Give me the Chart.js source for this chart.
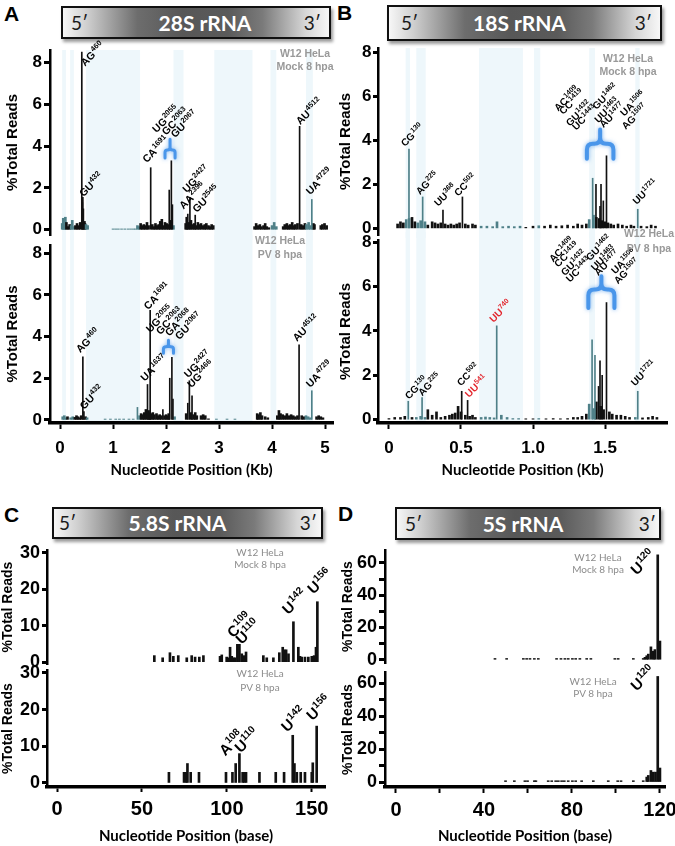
<!DOCTYPE html>
<html>
<head>
<meta charset="utf-8">
<title>rRNA read distribution</title>
<script src="https://cdn.jsdelivr.net/npm/chart.js"></script>
<style>
  body { margin: 0; background: #fff; }
  #page { position: relative; width: 675px; height: 846px; overflow: hidden; }
  #page canvas { position: absolute; }
  .letter { position: absolute; font: bold 21px 'Liberation Sans', Arial, sans-serif; color: #000; }
  .rna { position: absolute; box-sizing: border-box; border: 2px solid #111;
         box-shadow: 2px 3px 3px rgba(0,0,0,0.4);
         background: linear-gradient(to right, #f7f7f7 0%, #cfcfcf 9%, #6d6d6d 28%, #575757 45%, #5a5a5a 62%, #7a7a7a 75%, #d6d6d6 91%, #f7f7f7 100%);
         font-family: Lato, sans-serif; }
  .rna .end { position: absolute; top: 50%; transform: translateY(-52%); font-size: 19px; color: #1a1a1a; }
  .rna .l { left: 8px; }
  .rna .r { right: 8px; }
  .rna .name { position: absolute; top: 50%; transform: translate(-50%, -52%); color: #fff; font-weight: bold; font-size: 21px; white-space: nowrap; }
  .cond { position: absolute; z-index: 5; text-align: center; white-space: nowrap; transform: translateX(-50%); }
  .big { color: #999; font: bold 10.5px/13px 'Liberation Sans', Arial, sans-serif; }
  .small { color: #8c8c8c; font: 10px/12px Lato, sans-serif; }
</style>
</head>
<body>
<div id="page">
  <div class="letter" style="left:4px;top:2px">A</div>
  <div class="letter" style="left:337px;top:1px">B</div>
  <div class="letter" style="left:4px;top:503px">C</div>
  <div class="letter" style="left:338px;top:502px">D</div>

  <div class="rna" style="left:61px;top:6px;width:270px;height:33px">
    <span class="end l">5′</span><span class="name" style="left:calc(50% + 9px)">28S rRNA</span><span class="end r">3′</span>
  </div>
  <div class="rna" style="left:387px;top:5px;width:275px;height:36px">
    <span class="end l" style="left:12px">5′</span><span class="name" style="left:calc(50% - 5px)">18S rRNA</span><span class="end r">3′</span>
  </div>
  <div class="rna" style="left:52px;top:507px;width:271px;height:32px">
    <span class="end l" style="left:5px">5′</span><span class="name" style="left:calc(50% - 10px)">5.8S rRNA</span><span class="end r" style="right:4px">3′</span>
  </div>
  <div class="rna" style="left:395px;top:507px;width:266px;height:33px">
    <span class="end l">5′</span><span class="name" style="left:calc(50% - 5px)">5S rRNA</span><span class="end r" style="right:3px">3′</span>
  </div>

  <div class="cond big" style="left:305px;top:47px">W12 HeLa<br>Mock 8 hpa</div>
  <div class="cond big" style="left:280px;top:233px;line-height:14px">W12 HeLa<br>PV 8 hpa</div>
  <div class="cond big" style="left:628px;top:52px">W12 HeLa<br>Mock 8 hpa</div>
  <div class="cond big" style="left:649px;top:226px;line-height:15px">W12 HeLa<br>PV 8 hpa</div>
  <div class="cond small" style="left:260px;top:546px">W12 HeLa<br>Mock 8 hpa</div>
  <div class="cond small" style="left:260px;top:666px;line-height:14px">W12 HeLa<br>PV 8 hpa</div>
  <div class="cond small" style="left:598px;top:551px">W12 HeLa<br>Mock 8 hpa</div>
  <div class="cond small" style="left:593px;top:675px">W12 HeLa<br>PV 8 hpa</div>
</div>

<script>
// ---------- 28S rRNA (A), position in kb, value in % total reads ----------
const bands28S = [[0.04,0.11],[0.19,0.26],[0.49,1.51],[2.14,2.33],[2.91,3.63],[3.97,4.08],[4.64,4.77]];
const xTicks28S = [0,1,2,3,4,5];
const xLabels28S = ['0','1','2','3','4','5'];

const peaks28SMock = [[0.41,8.5],[0.42,1.3],[0.43,1.55],[0.44,1.0],[1.71,2.97],[2.06,1.9],[2.1,3.3],[2.12,1.2],
  [2.41,0.75],[2.45,1.55],[2.55,0.7],[4.52,4.95],[4.75,1.45]];
const floor28SMock = [[0.04,0.3],[0.06,0.55],[0.08,0.2],[0.1,0.6],[0.12,0.35],[0.15,0.15],[0.18,0.25],[0.21,0.2],
  [0.23,0.45],[0.26,0.15],[0.29,0.2],[0.32,0.3],[0.35,0.2],[0.38,0.35],[0.46,0.4],[0.47,0.3],[0.49,0.25],[0.52,0.2],
  [1.0,0.04],[1.05,0.04],[1.1,0.04],[1.16,0.04],[1.22,0.04],[1.28,0.04],[1.33,0.04],[1.38,0.04],[1.42,0.04],
  [1.46,0.2],[1.49,0.15],[1.52,0.3],[1.55,0.2],[1.58,0.25],[1.61,0.2],[1.64,0.35],[1.67,0.2],[1.74,0.25],[1.77,0.15],
  [1.8,0.3],[1.83,0.2],[1.86,0.25],[1.89,0.4],[1.92,0.5],[1.95,0.2],[1.98,0.35],[2.01,0.3],[2.04,0.25],[2.08,0.45],[2.14,0.2],
  [2.37,0.3],[2.39,0.6],[2.43,0.35],[2.47,0.45],[2.5,0.25],[2.53,0.3],[2.57,0.2],[2.6,0.35],[2.63,0.25],[2.66,0.3],
  [2.7,0.2],[2.73,0.25],[2.76,0.3],[2.8,0.2],[2.83,0.15],[2.86,0.25],[2.89,0.2],
  [3.67,0.15],[3.7,0.3],[3.73,0.2],[3.77,0.25],[3.8,0.15],[3.84,0.2],[3.87,0.3],[3.9,0.15],[3.94,0.1],[4.0,0.2],
  [4.04,0.35],[4.08,0.15],[4.21,0.15],[4.24,0.25],[4.28,0.3],[4.31,0.2],[4.34,0.25],[4.38,0.35],[4.41,0.2],[4.44,0.25],
  [4.48,0.3],[4.55,0.25],[4.58,0.2],[4.62,0.3],[4.65,0.25],[4.69,0.35],[4.72,0.2],[4.78,0.3],[4.8,0.25],
  [4.92,0.2],[4.95,0.25],[4.99,0.3],[5.03,0.2]];
const tags28SMock = [['AG','460',0.47,7.8],['GU','432',0.44,1.55],['CA','1691',1.635,3.18],['UG','2055',1.82,4.62],
  ['GC','2063',2.0,4.5],['GU','2067',2.17,4.38],['UG','2427',2.39,1.75],['AA','2396',2.33,0.96],['GU','2545',2.58,0.8],
  ['AU','4512',4.53,5.0],['UA','4729',4.72,1.65]];
const brace28SMock = [1.98, 2.17, 4.33, 3.82, 3.43];

const peaks28SPV = [[0.43,3.03],[0.45,0.4],[1.46,0.6],[1.65,1.7],[1.7,5.26],[1.94,0.5],[2.07,2.0],[2.11,3.0],[2.13,1.0],
  [2.41,0.8],[2.44,1.88],[2.49,1.16],[4.51,3.6],[4.75,1.4]];
const floor28SPV = [[0.05,0.15],[0.08,0.2],[0.11,0.1],[0.14,0.15],[0.2,0.1],[0.24,0.15],[0.28,0.12],[0.31,0.2],
  [0.34,0.15],[0.37,0.1],[0.4,0.2],[0.48,0.15],[0.51,0.1],[0.85,0.04],[0.95,0.04],[1.05,0.04],[1.12,0.04],[1.2,0.04],
  [1.3,0.04],[1.38,0.04],[1.5,0.2],[1.53,0.3],[1.56,0.25],[1.59,0.35],[1.62,0.5],[1.67,0.45],[1.68,0.35],[1.72,0.3],
  [1.75,0.35],[1.78,0.25],[1.82,0.3],[1.85,0.2],[1.88,0.25],[1.91,0.2],[1.97,0.2],[2.0,0.25],[2.03,0.2],[2.05,0.3],
  [2.16,0.15],[2.38,0.3],[2.47,0.35],[2.52,0.25],[2.55,0.35],[2.58,0.2],[2.66,0.2],[2.7,0.25],[2.74,0.2],[2.8,0.05],
  [2.95,0.04],[3.15,0.04],[3.3,0.04],[3.72,0.3],[3.74,0.25],[3.78,0.35],[3.81,0.2],[3.87,0.15],[3.92,0.1],[4.1,0.2],
  [4.13,0.45],[4.16,0.3],[4.2,0.25],[4.24,0.2],[4.28,0.3],[4.32,0.2],[4.36,0.25],[4.4,0.2],[4.44,0.15],[4.48,0.2],
  [4.56,0.2],[4.6,0.15],[4.64,0.2],[4.68,0.15],[4.72,0.1],[4.84,0.15],[4.88,0.2],[4.92,0.15],[4.96,0.1]];
const tags28SPV = [['AG','460',0.38,3.2],['GU','432',0.45,0.48],['UA','1637',1.6,1.83],['CA','1691',1.66,5.27],
  ['UG','2055',1.7,4.17],['GC','2063',1.89,4.07],['GA','2068',2.06,3.99],['GU','2067',2.25,3.83],
  ['UG','2427',2.42,2.0],['UG','2466',2.48,1.52],['AU','4512',4.47,3.74],['UA','4729',4.72,1.53]];
const brace28SPV = [1.95, 2.14, 3.83, 3.51, 3.2];

// ---------- 18S rRNA (B), position in kb ----------
const bands18S = [[0.116,0.146],[0.19,0.255],[0.625,0.93],[1.007,1.05],[1.39,1.43],[1.71,1.74]];
const xTicks18S = [0,0.5,1,1.5];
const xLabels18S = ['0','0.5','1.0','1.5'];
const yTicksKb = [0,2,4,6,8];

const peaks18SMock = [[0.139,3.6],[0.234,1.43],[0.375,0.83],[0.51,1.43],[1.414,2.28],[1.437,2.0],[1.465,1.0],
  [1.472,2.0],[1.488,1.25],[1.51,3.3],[1.727,0.87]];
const floor18SMock = [[0.06,0.2],[0.08,0.3],[0.1,0.25],[0.12,0.4],[0.14,0.45],[0.16,0.5],[0.18,0.3],[0.2,0.25],
  [0.22,0.35],[0.25,0.3],[0.27,0.15],[0.3,0.3],[0.32,0.25],[0.34,0.2],[0.36,0.25],[0.39,0.2],[0.41,0.15],[0.43,0.2],
  [0.45,0.15],[0.47,0.2],[0.49,0.25],[0.53,0.2],[0.55,0.15],[0.58,0.2],[0.6,0.15],[0.64,0.1],[0.68,0.1],[0.72,0.08],
  [0.75,0.3],[0.79,0.08],[0.83,0.1],[0.87,0.08],[0.91,0.1],[0.95,0.05],[1.0,0.1],[1.04,0.12],[1.08,0.1],[1.12,0.15],
  [1.16,0.1],[1.2,0.12],[1.24,0.15],[1.28,0.1],[1.31,0.2],[1.34,0.15],[1.37,0.2],[1.39,0.4],[1.42,0.6],[1.44,0.5],
  [1.46,0.45],[1.48,0.35],[1.5,0.3],[1.52,0.25],[1.54,0.2],[1.56,0.15],[1.59,0.2],[1.62,0.15],[1.65,0.1],[1.68,0.15],
  [1.7,0.1],[1.75,0.1],[1.79,0.08],[1.82,0.15],[1.85,0.1]];
const tags18SMock = [['CG','130',0.111,3.7],['AG','225',0.215,1.51],['UU','368',0.342,0.98],['CC','502',0.481,1.44],
  ['AC','1409',1.176,5.3],['CC','1419',1.21,5.15],['GU','1432',1.257,4.62],['UC','1443',1.3,4.44],
  ['GU','1462',1.44,5.38],['UU','1463',1.454,4.77],['AU','1477',1.49,4.55],['UA','1506',1.634,5.07],
  ['AG','1507',1.644,4.47],['UU','1721',1.72,1.06]];
const brace18SMock = [1.374, 1.558, 4.5, 3.85, 3.17];

const peaks18SPV = [[0.134,0.83],[0.23,1.0],[0.505,1.28],[0.546,0.87],[0.748,4.23],[1.41,3.6],[1.43,2.9],
  [1.455,1.5],[1.465,2.65],[1.48,2.0],[1.51,5.28],[1.727,1.28]];
const floor18SPV = [[0.0,0.05],[0.04,0.1],[0.08,0.1],[0.11,0.15],[0.16,0.1],[0.19,0.1],[0.22,0.15],[0.25,0.1],
  [0.27,0.45],[0.3,0.2],[0.33,0.35],[0.36,0.1],[0.39,0.15],[0.42,0.2],[0.44,0.25],[0.46,0.3],[0.48,0.6],[0.5,0.35],
  [0.53,0.2],[0.56,0.15],[0.58,0.2],[0.6,0.1],[0.64,0.1],[0.67,0.12],[0.7,0.1],[0.73,0.08],[0.78,0.2],[0.82,0.1],
  [0.86,0.05],[0.9,0.05],[0.95,0.04],[1.0,0.04],[1.04,0.05],[1.09,0.04],[1.14,0.05],[1.19,0.04],[1.24,0.05],
  [1.28,0.1],[1.31,0.1],[1.34,0.15],[1.37,0.25],[1.39,0.7],[1.42,0.5],[1.44,0.8],[1.47,0.6],[1.49,0.45],[1.53,0.35],
  [1.55,0.25],[1.58,0.2],[1.61,0.2],[1.64,0.15],[1.67,0.1],[1.71,0.1],[1.76,0.08],[1.8,0.1],[1.83,0.15],[1.86,0.1]];
const tags18SPV = [['CG','130',0.139,0.9],['AG','225',0.231,1.05],['CC','502',0.5,1.5],['UU','541',0.556,0.98],
  ['UU','740',0.725,4.36],['AC','1409',1.14,7.07],['CC','1419',1.176,6.85],['GU','1432',1.222,6.47],
  ['UC','1443',1.257,6.17],['GU','1462',1.396,7.14],['UU','1463',1.43,6.69],['AU','1477',1.453,6.47],
  ['UA','1506',1.57,6.54],['AG','1507',1.59,6.09],['UU','1721',1.708,1.5]];
const brace18SPV = [1.384, 1.565, 6.47, 5.87, 5.04];
const pvOnlySites = ['541','740'];

// ---------- 5.8S rRNA (C), position in bases ----------
const xTicks58S = [0,50,100,150];
const xLabels58S = ['0','50','100','150'];
const yTicks58S = [0,10,20,30];
const bars58SMock = [[57.3,1.8],[62.2,1.2],[66.5,2.6],[68.5,1.6],[71.4,1.8],[76.4,1.2],[79.3,1.8],[81.3,1.4],
  [83.8,1.4],[86.2,1.8],[96,1.6],[97,2.0],[99.9,1.4],[100.9,1.2],[101.9,4.1],[102.9,1.6],[103.8,1.2],[104.8,1.2],
  [106.2,4.9],[107.4,4.9],[108.8,2.3],[110.2,1.8],[111.3,2.8],[121.5,1.8],[123.5,1.2],[127.4,1.2],[130.9,2.6],
  [132.9,4.1],[133.7,3.4],[134.9,3.4],[136.3,2.3],[139.2,11.1],[142.1,4.1],[143.1,1.6],[144.1,1.4],[146,1.4],
  [148,1.4],[150,1.6],[151.4,1.8],[152.5,4.1],[153.3,16.6]];
const bars58SPV = [[65.9,2.9],[74.8,2.9],[76,2.9],[76.8,5.3],[78.7,2.9],[83.6,2.9],[99.5,2.9],[103.3,2.9],
  [105.2,5.3],[107.4,8.0],[109.3,2.9],[110.3,2.9],[111.3,2.9],[119.2,2.9],[128.8,2.9],[133.7,2.9],[138.8,13.0],
  [139.8,5.3],[141.2,2.9],[143.5,2.9],[146,2.9],[150,2.9],[150.6,5.5],[152.9,15.5]];
const tags58SMock = [['C','109',103.8,6.5],['U','110',108.8,4.7],['U','142',136.2,12.9],['U','156',151,18.5]];
const tags58SPV = [['A','108',99,7.2],['U','110',108.2,8.0],['U','142',135.6,13.7],['U','156',150.4,16.8]];

// ---------- 5S rRNA (D), position in bases ----------
const xTicks5S = [0,20,40,60,80,100,120];
const xLabels5S = ['0','','40','','80','','120'];
const yTicks5S = [0,10,20,30,40,50,60];
const yLabels5S = ['0','','20','','40','','60'];
const bars5SMock = [[45,0.8],[50.3,0.8],[57.9,0.8],[59.4,0.8],[60.9,0.8],[62.9,0.8],[64.7,0.8],[73,0.8],[75,0.8],
  [76.8,0.8],[78.3,0.8],[80.2,0.8],[81.7,0.8],[83.6,0.8],[86.7,0.8],[88.6,0.8],[99.5,0.8],[101,0.8],[107.9,0.8],
  [112.4,0.8],[113.2,1.5],[114,2.5],[114.7,3.5],[115.9,8],[117,5.3],[117.7,6.3],[119,65],[120,11.6]];
const bars5SPV = [[49.8,0.8],[53.8,0.8],[58.6,0.8],[59.8,0.8],[62.9,0.8],[63.6,0.8],[69.2,0.8],[70.8,0.8],[72.6,0.8],
  [73.8,0.8],[75.3,0.8],[76.5,0.8],[78.3,0.8],[80.2,0.8],[81.7,0.8],[84.4,0.8],[89.7,0.8],[96.5,0.8],[100.8,0.8],
  [102.3,0.8],[107.9,0.8],[112.4,0.8],[114,3],[114.7,4],[115.9,7],[117,6],[118,6],[119,64],[120,8.5]];
const tags5SMock = [['U','120',109.4,52]];
const tags5SPV = [['U','120',109.4,54.7]];

// ---------- drawing ----------
const page = document.getElementById('page');
const ARIAL = "'Liberation Sans', Arial, sans-serif";

function inBand(bands, v) {
  return !!bands && bands.some(([s, e]) => v >= s && v <= e);
}

// site label on a 45 degree slope, position number as superscript
function drawTag(ctx, px, py, main, sup, f, color) {
  ctx.save();
  ctx.translate(px, py);
  ctx.rotate(-Math.PI / 4);
  ctx.fillStyle = color;
  ctx.textAlign = 'left';
  ctx.textBaseline = 'alphabetic';
  ctx.font = `bold ${f[0]}px ${ARIAL}`;
  ctx.fillText(main, 0, 0);
  const w = ctx.measureText(main).width;
  ctx.font = `bold ${f[1]}px ${ARIAL}`;
  ctx.fillText(sup, w + 0.5, -f[0] * 0.42);
  ctx.restore();
}

function drawBrace(ctx, x, y, b, lw, rad) {
  const x1 = x.getPixelForValue(b[0]), x2 = x.getPixelForValue(b[1]);
  const cx = (x1 + x2) / 2;
  const yt = y.getPixelForValue(b[2]), ym = y.getPixelForValue(b[3]), yb = y.getPixelForValue(b[4]);
  const r = Math.min(rad, (x2 - x1) / 4, (yb - ym) * 0.8);
  ctx.save();
  ctx.strokeStyle = '#4a96ea';
  ctx.lineWidth = lw;
  ctx.lineCap = 'round';
  ctx.lineJoin = 'round';
  ctx.shadowColor = 'rgba(74,150,234,0.7)';
  ctx.shadowBlur = 4;
  ctx.beginPath();
  ctx.moveTo(x1, yb);
  ctx.lineTo(x1, ym + r);
  ctx.quadraticCurveTo(x1, ym, x1 + r, ym);
  ctx.lineTo(cx - r, ym);
  ctx.quadraticCurveTo(cx, ym, cx, ym - r);
  ctx.lineTo(cx, yt);
  ctx.moveTo(x2, yb);
  ctx.lineTo(x2, ym + r);
  ctx.quadraticCurveTo(x2, ym, x2 - r, ym);
  ctx.lineTo(cx + r, ym);
  ctx.quadraticCurveTo(cx, ym, cx, ym - r);
  ctx.stroke();
  ctx.restore();
}

function decor(o) {
  return {
    id: 'decor',
    beforeDraw(chart) {
      if (!o.bands) return;
      const { ctx, chartArea: a } = chart;
      const x = chart.scales.x;
      const top = o.xTitle ? 0 : a.top;
      const bottom = o.xTitle ? a.bottom : chart.height;
      ctx.save();
      ctx.fillStyle = '#eef7fb';
      o.bands.forEach(([s, e]) => {
        const p0 = x.getPixelForValue(s), p1 = x.getPixelForValue(e);
        ctx.fillRect(p0, top, p1 - p0, bottom - top);
      });
      ctx.restore();
    },
    afterDraw(chart) {
      const { ctx } = chart;
      const { x, y } = chart.scales;
      if (o.brace) drawBrace(ctx, x, y, o.brace, o.braceWidth, o.braceRadius);
      (o.tags || []).forEach(([main, sup, vx, vy]) => {
        const color = (o.redSites || []).includes(sup) ? '#e3262d' : '#000';
        drawTag(ctx, x.getPixelForValue(vx), y.getPixelForValue(vy), main, sup, o.tagFont, color);
      });
    }
  };
}

function barSet(points, thickness, bands) {
  return {
    data: points.slice().sort((a, b) => a[0] - b[0]).map(([x, y]) => ({ x, y })),
    barThickness: thickness,
    borderWidth: 0,
    grouped: false,
    backgroundColor: c => (c.raw && inBand(bands, c.raw.x)) ? '#4f8088' : '#111'
  };
}

function stemPlot(o) {
  const [L, T, W, H] = o.box;
  const [pl, pt, pr, pb] = o.plot;
  const canvas = document.createElement('canvas');
  canvas.width = W;
  canvas.height = H;
  canvas.style.left = L + 'px';
  canvas.style.top = T + 'px';
  page.appendChild(canvas);

  const showX = !!o.xTitle;
  const under = T + H - pb;
  const datasets = [barSet(o.bars, o.barW, o.bands)];
  if (o.floor) datasets.push(barSet(o.floor, 2, o.bands));

  return new Chart(canvas, {
    type: 'bar',
    data: { datasets },
    options: {
      responsive: false,
      animation: false,
      events: [],
      layout: { padding: { left: 0, top: pt - T, right: L + W - pr, bottom: showX ? 0 : under } },
      plugins: { legend: { display: false }, tooltip: { enabled: false } },
      scales: {
        x: {
          type: 'linear',
          display: showX,
          min: o.xRange[0],
          max: o.xRange[1],
          offset: false,
          bounds: 'data',
          afterBuildTicks: s => { s.ticks = o.xTicks.map(v => ({ value: v })); },
          afterFit: s => { if (showX) s.height = under; s.paddingLeft = 0; s.paddingRight = 0; },
          ticks: {
            autoSkip: false, maxRotation: 0, padding: o.xTick[2], color: '#000',
            font: { family: ARIAL, weight: 'bold', size: o.xTick[0] },
            callback: (v, i) => o.xLabels[i]
          },
          grid: { drawOnChartArea: false, offset: false, tickLength: o.xTick[1], tickWidth: 2, tickColor: '#000' },
          border: { display: true, width: 3.5, color: '#000' },
          title: {
            display: showX, text: o.xTitle || '', color: '#000',
            font: { family: 'Lato', weight: 'bold', size: 15 },
            padding: { top: 0, bottom: o.xTitlePad || 0 }
          }
        },
        y: {
          min: o.yRange[0],
          max: o.yRange[1],
          bounds: 'data',
          afterBuildTicks: s => { s.ticks = o.yTicks.map(v => ({ value: v })); },
          afterFit: s => { s.width = pl - L; s.paddingTop = 0; s.paddingBottom = 0; },
          ticks: {
            autoSkip: false, padding: o.yTick[2], color: '#000',
            font: { family: ARIAL, weight: 'bold', size: o.yTick[0] },
            callback: (v, i) => (o.yLabels ? o.yLabels[i] : String(v))
          },
          grid: { drawOnChartArea: false, tickLength: o.yTick[1], tickWidth: 3, tickColor: '#000' },
          border: { display: true, width: 2.5, color: '#000' },
          title: {
            display: true, text: '%Total Reads', color: '#000',
            font: { family: ARIAL, weight: 'bold', size: o.yTitleSize },
            padding: { top: o.yTitlePad, bottom: 0 }
          }
        }
      }
    },
    plugins: [decor(o)]
  });
}

// A: 28S
stemPlot({ box: [0, 40, 340, 200], plot: [50, 50, 333, 235], bars: peaks28SMock, floor: floor28SMock, barW: 1,
  bands: bands28S, xRange: [-0.19, 5.15], xTicks: xTicks28S, xLabels: xLabels28S, xTick: [17, 6, 9],
  yRange: [-0.25, 8.6], yTicks: yTicksKb, yTick: [17, 6, 2], yTitleSize: 15, yTitlePad: 4,
  tags: tags28SMock, tagFont: [10.5, 7.5], brace: brace28SMock, braceWidth: 3, braceRadius: 3 });
stemPlot({ box: [0, 235, 340, 250], plot: [50, 245, 333, 423], bars: peaks28SPV, floor: floor28SPV, barW: 1,
  bands: bands28S, xRange: [-0.19, 5.15], xTicks: xTicks28S, xLabels: xLabels28S, xTick: [17, 6, 9],
  xTitle: 'Nucleotide Position (Kb)', xTitlePad: 6,
  yRange: [-0.15, 8.4], yTicks: yTicksKb, yTick: [17, 6, 2], yTitleSize: 15, yTitlePad: 4,
  tags: tags28SPV, tagFont: [10.5, 7.5], brace: brace28SPV, braceWidth: 3, braceRadius: 3 });

// B: 18S
stemPlot({ box: [335, 38, 340, 200], plot: [378, 48, 667, 235], bars: peaks18SMock, floor: floor18SMock, barW: 1,
  bands: bands18S, xRange: [-0.076, 1.93], xTicks: xTicks18S, xLabels: xLabels18S, xTick: [17, 6, 9],
  yRange: [-0.3, 8.2], yTicks: yTicksKb, yTick: [17, 5, 1.5], yTitleSize: 15, yTitlePad: 2,
  tags: tags18SMock, tagFont: [10, 7], brace: brace18SMock, braceWidth: 4, braceRadius: 6 });
stemPlot({ box: [335, 232, 340, 253], plot: [378, 240, 667, 423], bars: peaks18SPV, floor: floor18SPV, barW: 1,
  bands: bands18S, xRange: [-0.076, 1.93], xTicks: xTicks18S, xLabels: xLabels18S, xTick: [17, 6, 9],
  xTitle: 'Nucleotide Position (Kb)', xTitlePad: 6,
  yRange: [-0.15, 8.1], yTicks: yTicksKb, yTick: [17, 5, 1.5], yTitleSize: 15, yTitlePad: 2,
  tags: tags18SPV, tagFont: [10, 7], redSites: pvOnlySites, brace: brace18SPV, braceWidth: 4, braceRadius: 6 });

// C: 5.8S
stemPlot({ box: [0, 540, 335, 130], plot: [47, 550, 325, 664], bars: bars58SMock, barW: 2,
  xRange: [-5.9, 157.8], xTicks: xTicks58S, xLabels: xLabels58S, xTick: [20, 5, 5],
  yRange: [-0.5, 30.8], yTicks: yTicks58S, yTick: [18, 5, 2], yTitleSize: 14, yTitlePad: 0,
  tags: tags58SMock, tagFont: [15, 10] });
stemPlot({ box: [0, 662, 335, 184], plot: [47, 670, 325, 787], bars: bars58SPV, barW: 2,
  xRange: [-5.9, 157.8], xTicks: xTicks58S, xLabels: xLabels58S, xTick: [20, 5, 5],
  xTitle: 'Nucleotide Position (base)', xTitlePad: 1,
  yRange: [-1.1, 30.8], yTicks: yTicks58S, yTick: [18, 5, 2], yTitleSize: 14, yTitlePad: 0,
  tags: tags58SPV, tagFont: [15, 10] });

// D: 5S
stemPlot({ box: [335, 540, 340, 128], plot: [385, 550, 665, 663], bars: bars5SMock, barW: 2,
  xRange: [-5, 122.3], xTicks: xTicks5S, xLabels: xLabels5S, xTick: [20, 6, 5],
  yRange: [-2, 68], yTicks: yTicks5S, yLabels: yLabels5S, yTick: [18, 6, 2], yTitleSize: 14, yTitlePad: 5,
  tags: tags5SMock, tagFont: [15, 10] });
stemPlot({ box: [335, 662, 340, 184], plot: [385, 672, 665, 787], bars: bars5SPV, barW: 2,
  xRange: [-5, 122.3], xTicks: xTicks5S, xLabels: xLabels5S, xTick: [20, 6, 5],
  xTitle: 'Nucleotide Position (base)', xTitlePad: 1,
  yRange: [-3, 66.7], yTicks: yTicks5S, yLabels: yLabels5S, yTick: [18, 6, 2], yTitleSize: 14, yTitlePad: 5,
  tags: tags5SPV, tagFont: [15, 10] });
</script>
</body>
</html>
